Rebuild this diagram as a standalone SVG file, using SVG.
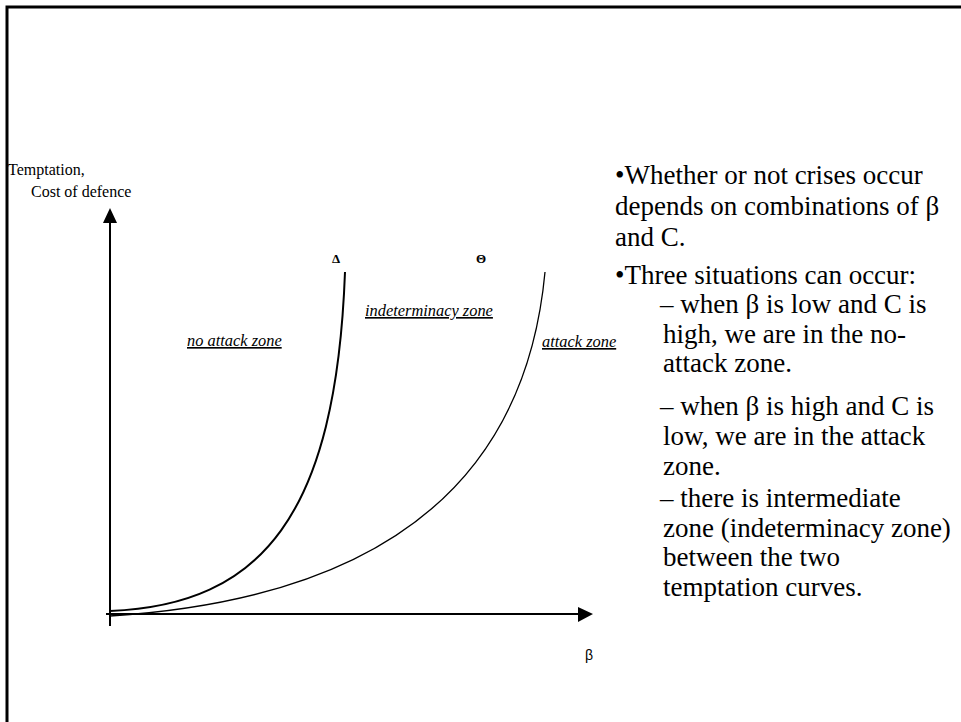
<svg xmlns="http://www.w3.org/2000/svg" width="961" height="722" viewBox="0 0 961 722">
<style>
.t{font-family:"Liberation Serif","Times New Roman",serif;fill:#000}
.body{font-size:27px}
.small{font-size:16px}
.zone{font-family:"Liberation Serif",serif;font-style:italic;font-size:16.4px;text-decoration:underline}
.ax{stroke:#000;stroke-width:2;fill:none}
.cv{stroke:#000;fill:none}
</style>
<rect width="961" height="722" fill="#fff"/>
<path d="M7,722 V7 H961" fill="none" stroke="#000" stroke-width="3"/>
<g id="axes">
<line x1="110" y1="626" x2="110" y2="222" class="ax"/>
<path d="M103,223 L110,208 L117,223 Z" fill="#000"/>
<line x1="106" y1="614" x2="578" y2="614" class="ax"/>
<path d="M578,607 L593,614 L578,622 Z" fill="#000"/>
</g>
<g id="curves">
<path class="cv" stroke-width="2" d="M110,611 C262,605 336,515 345,272"/>
<path class="cv" stroke-width="1.3" d="M110,616 C330,602 522,520 545,272"/>
</g>
<g id="labels">
<text class="t small" x="8" y="175">Temptation,</text>
<text class="t small" x="31" y="197">Cost of defence</text>
<text class="t" x="332" y="263" font-weight="bold" font-size="13">Δ</text>
<text class="t" x="476" y="263" font-weight="bold" font-size="13">Θ</text>
<text class="zone" x="187" y="346">no attack zone</text>
<text class="zone" x="365" y="316">indeterminacy zone</text>
<text class="zone" x="542" y="347">attack zone</text>
<text x="585" y="660" font-family="Liberation Sans, Arial, sans-serif" font-size="14">β</text>
</g>
<g id="notes" class="t body">
<text x="615" y="184">•Whether or not crises occur</text>
<text x="615" y="215">depends on combinations of β</text>
<text x="615" y="246">and C.</text>
<text x="615" y="284">•Three situations can occur:</text>
<text x="660" y="313">– when β is low and C is</text>
<text x="663" y="343">high, we are in the no-</text>
<text x="663" y="372">attack zone.</text>
<text x="660" y="415">– when  β is high and C is</text>
<text x="663" y="445">low, we are in the attack</text>
<text x="663" y="475">zone.</text>
<text x="660" y="507">– there is intermediate</text>
<text x="663" y="537">zone (indeterminacy zone)</text>
<text x="663" y="566">between the two</text>
<text x="663" y="596">temptation curves.</text>
</g>
</svg>
